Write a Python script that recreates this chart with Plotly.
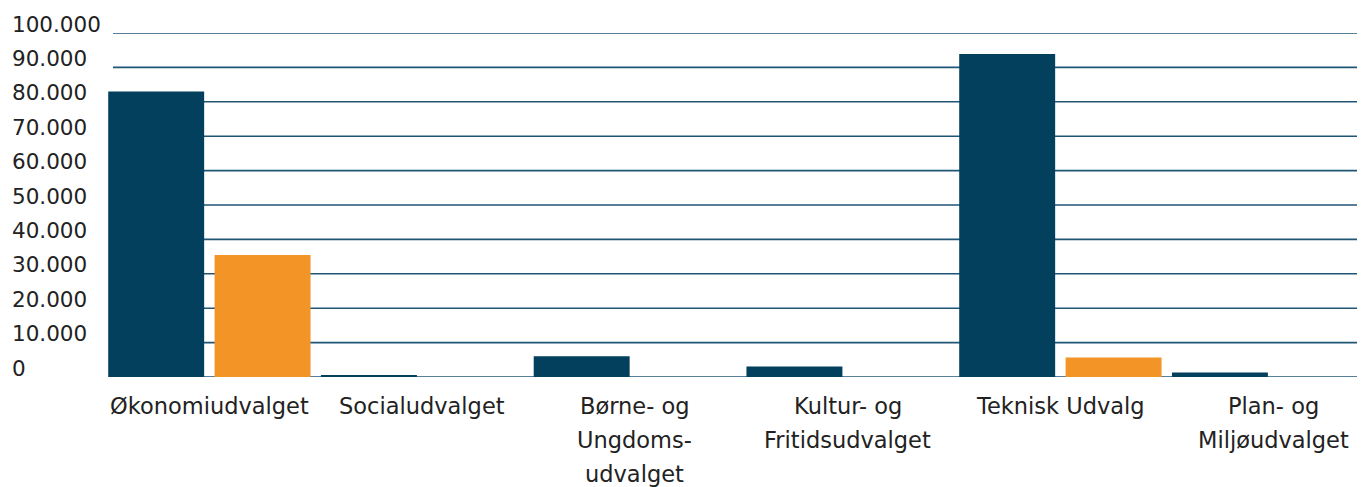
import plotly.graph_objects as go

categories = ["Økonomiudvalget", "Socialudvalget", "Børne- og\nUngdoms-\nudvalget",
              "Kultur- og\nFritidsudvalget", "Teknisk Udvalg", "Plan- og\nMiljøudvalget"]
series_a = [83000, 300, 6000, 3050, 93900, 1300]
series_b = [35500, 0, 0, 0, 5700, 0]
tick_vals = [0, 10000, 20000, 30000, 40000, 50000, 60000, 70000, 80000, 90000, 100000]
tick_text = ["0", "10.000", "20.000", "30.000", "40.000", "50.000", "60.000",
             "70.000", "80.000", "90.000", "100.000"]

DARK = "#02405e"
ORANGE = "#f39426"
GRID = "#1f5676"
FONT = "DejaVu Sans"
TXT = "#222222"

OFF = 8  # page body margin
W, H = 1365 - OFF, 487 - OFF
ML, MR, MT = 103 - OFF, 0, 33 - OFF
MB = H - (377.5 - OFF)
PW = W - ML - MR
cat_w = 212.75
x_max = -0.5 + PW / cat_w

xs = list(range(len(categories)))

fig = go.Figure()
fig.add_bar(x=xs, y=series_a, marker_color=DARK, marker_line_width=0, name="A")
fig.add_bar(x=xs, y=series_b, marker_color=ORANGE, marker_line_width=0, name="B")

shapes = []
for v in tick_vals:
    shapes.append(dict(type="line", xref="paper", yref="y", x0=10 / PW, x1=1,
                       y0=v, y1=v, line=dict(color=GRID, width=1.6), layer="below"))

annotations = []
for v, t in zip(tick_vals, tick_text):
    annotations.append(dict(x=(10 - OFF - ML) / PW, xref="paper", y=v, yref="y",
                            text=t, showarrow=False, xanchor="left", yanchor="middle",
                            yshift=9, font=dict(family=FONT, size=21.5, color=TXT)))
for i, lab in enumerate(categories):
    for j, line in enumerate(lab.split("\n")):
        annotations.append(dict(x=i, xref="x", y=0, yref="paper", text=line,
                                showarrow=False, xanchor="center", yanchor="middle",
                                yshift=-29 - 34 * j,
                                font=dict(family=FONT, size=22.5, color=TXT)))

fig.update_layout(
    width=W, height=H,
    margin=dict(l=ML, r=MR, t=MT, b=MB),
    paper_bgcolor="white", plot_bgcolor="white",
    barmode="group", bargap=0.0, bargroupgap=0.098,
    showlegend=False,
    shapes=shapes, annotations=annotations,
    xaxis=dict(range=[-0.5, x_max], showticklabels=False, showgrid=False,
               zeroline=False, showline=False, ticks="", fixedrange=True),
    yaxis=dict(range=[0, 100000], showticklabels=False, showgrid=False,
               zeroline=False, showline=False, ticks="", fixedrange=True),
)

fig.write_html("out.html")
